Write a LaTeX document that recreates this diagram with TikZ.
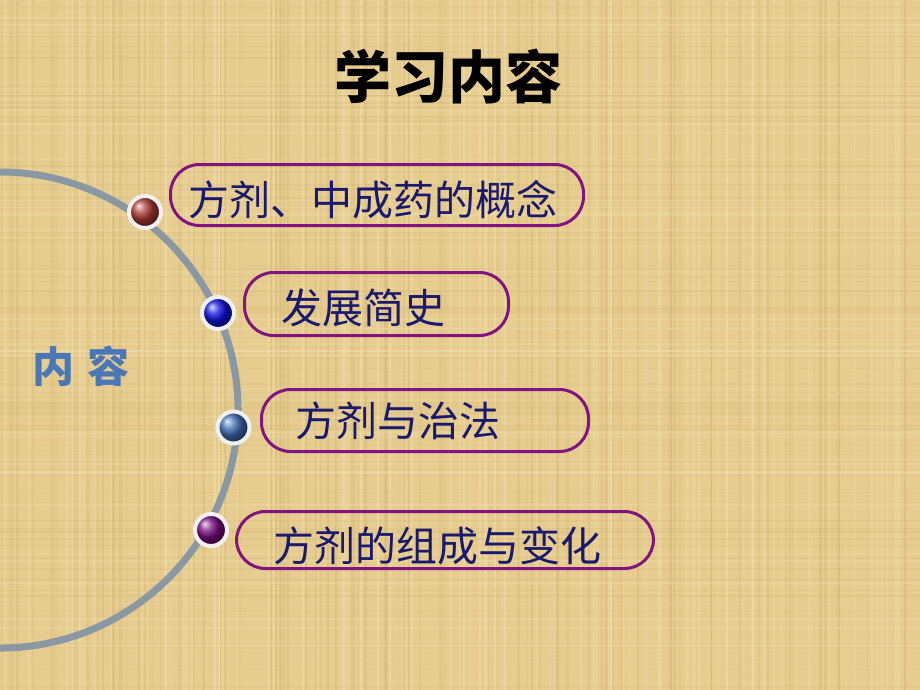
\documentclass[tikz,border=0pt]{standalone}
\usepackage{fontspec}
\newfontfamily\cjk{Noto Sans CJK SC}
\definecolor{papyrus}{RGB}{230,204,143}
\definecolor{fiberlight}{RGB}{244,226,178}
\definecolor{fiberdark}{RGB}{212,182,118}
\definecolor{itemtext}{RGB}{25,25,110}
\definecolor{boxline}{RGB}{130,20,130}
\definecolor{arcgray}{RGB}{138,152,164}
\definecolor{labelblue}{RGB}{74,120,182}
\definecolor{ballred}{RGB}{170,55,50}
\definecolor{ballblue}{RGB}{15,15,225}
\definecolor{ballsteel}{RGB}{62,108,178}
\definecolor{ballpurple}{RGB}{118,12,124}
\tikzset{
  itembox/.style={draw=boxline, line width=3pt, rounded corners=29pt, inner sep=0pt},
  itemtext/.style={text=itemtext, font=\cjk\fontsize{41}{44}\selectfont, inner sep=0pt, anchor=base},
  ball/.style={circle, draw=gray!12, line width=4pt, minimum size=32pt, inner sep=0pt},
}
\begin{document}
\begin{tikzpicture}[x=1pt, y=-1pt]
  \useasboundingbox (0,0) rectangle (920,690);
  \clip (0,0) rectangle (920,690);
  \fill[papyrus] (0,0) rectangle (920,690);
  \pgfmathsetseed{11}
  \foreach \k in {1,...,240}{
    \pgfmathsetmacro{\fx}{random(0,920)}
    \pgfmathsetmacro{\fw}{0.6+2.4*rnd}
    \pgfmathsetmacro{\fo}{0.15+0.35*rnd}
    \ifodd\k
      \draw[fiberlight, line width=\fw pt, opacity=\fo] (\fx,0) -- (\fx,690);
    \else
      \draw[fiberdark, line width=\fw pt, opacity=\fo] (\fx,0) -- (\fx,690);
    \fi
  }
  \foreach \k in {1,...,180}{
    \pgfmathsetmacro{\fy}{random(0,690)}
    \pgfmathsetmacro{\fw}{0.6+2*rnd}
    \pgfmathsetmacro{\fo}{0.08+0.25*rnd}
    \ifodd\k
      \draw[fiberlight, line width=\fw pt, opacity=\fo] (0,\fy) -- (920,\fy);
    \else
      \draw[fiberdark, line width=\fw pt, opacity=\fo] (0,\fy) -- (920,\fy);
    \fi
  }

  \node[font=\cjk\bfseries\fontsize{57}{60}\selectfont, inner sep=0pt, anchor=base] (title) at (448,99) {学习内容};

  \draw[arcgray, line width=7pt] (0,410) ++(100:238) arc[start angle=100, end angle=-100, radius=238];

  \node[font=\cjk\bfseries\fontsize{42}{44}\selectfont, text=labelblue, inner sep=0pt, anchor=base] (label) at (81,382) {内\hspace{14pt}容};

  \node[itembox, minimum width=413pt, minimum height=61pt] (box1) at (377,195) {};
  \node[itembox, minimum width=264pt, minimum height=63pt] (box2) at (376.5,304) {};
  \node[itembox, minimum width=327pt, minimum height=62pt] (box3) at (425,420.5) {};
  \node[itembox, minimum width=417pt, minimum height=57pt] (box4) at (445,540) {};

  \node[itemtext] (text1) at (372.5,215) {方剂、中成药的概念};
  \node[itemtext] (text2) at (363,323) {发展简史};
  \node[itemtext] (text3) at (398,436) {方剂与治法};
  \node[itemtext] (text4) at (437,561) {方剂的组成与变化};

  \node[ball, ball color=ballred] (ball1) at (145,212) {};
  \node[ball, ball color=ballblue] (ball2) at (218,313) {};
  \node[ball, ball color=ballsteel] (ball3) at (233.5,427.5) {};
  \node[ball, ball color=ballpurple] (ball4) at (211,530) {};
\end{tikzpicture}
\end{document}
